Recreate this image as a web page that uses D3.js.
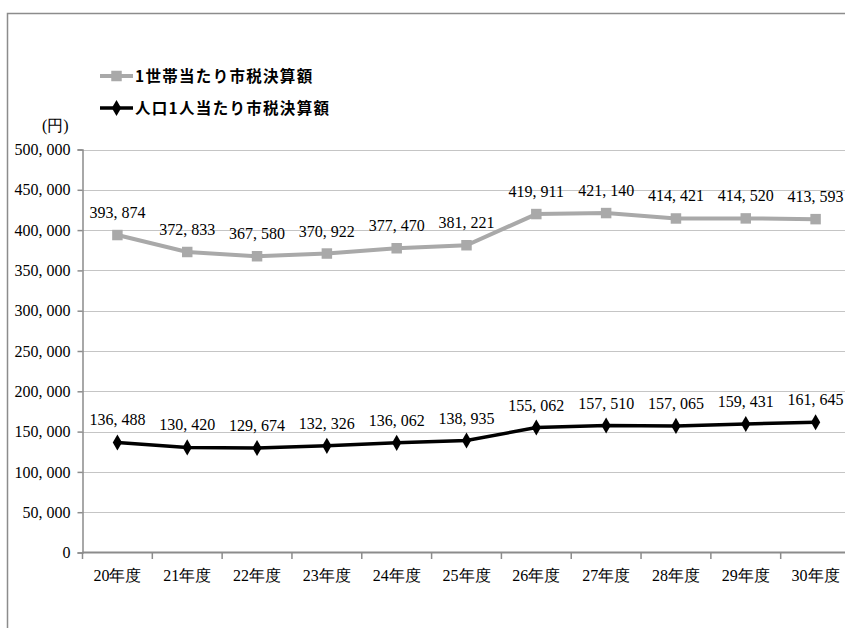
<!DOCTYPE html>
<html>
<head>
<meta charset="utf-8">
<script src="https://cdn.jsdelivr.net/npm/d3@7"></script>
<style>
  html, body { margin: 0; padding: 0; background: #fff; overflow: hidden; }
  .serif { font-family: "Liberation Serif", "Times New Roman", "DejaVu Serif", serif; }
</style>
</head>
<body>
<div id="chart"></div>
<script>
// Categories (fiscal years)
const years = ["20年度", "21年度", "22年度", "23年度", "24年度", "25年度",
               "26年度", "27年度", "28年度", "29年度", "30年度"];

// Series values (yen)
const perHousehold = [393874, 372833, 367580, 370922, 377470, 381221,
                      419911, 421140, 414421, 414520, 413593];
const perPerson    = [136488, 130420, 129674, 132326, 136062, 138935,
                      155062, 157510, 157065, 159431, 161645];

// Y tick values
const yTicks = [0, 50000, 100000, 150000, 200000, 250000,
                300000, 350000, 400000, 450000, 500000];

const seriesNames = ["1世帯当たり市税決算額", "人口1人当たり市税決算額"];

const width  = 845;
const height = 628;

const grayColor  = "#a9a9a9";
const blackColor = "#000000";
const axisColor  = "#8c8c8c";
const gothic = "'Noto Sans CJK JP', 'Noto Sans', sans-serif";

const svg = d3.select("#chart").append("svg")
  .attr("width", width)
  .attr("height", height);

// outer frame of the chart area
svg.append("rect")
  .attr("x", 7.5).attr("y", 13.5)
  .attr("width", 900).attr("height", 700)
  .attr("fill", "none")
  .attr("stroke", axisColor)
  .attr("stroke-width", 1.5);

// Scales
const x = d3.scaleBand()
  .domain(years)
  .range([82.5, 850.5])
  .paddingInner(0)
  .paddingOuter(0);

const y = d3.scaleLinear()
  .domain([0, 500000])
  .range([552.5, 149.5]);

const fmt = v => d3.format(",")(v).replace(",", ", ");
const cx = d => x(d) + x.bandwidth() / 2;

// grid lines (dotted)
svg.append("g")
  .selectAll("line")
  .data(yTicks.filter(t => t > 0))
  .enter().append("line")
  .attr("x1", 82.5).attr("x2", width)
  .attr("y1", d => Math.round(y(d)) + 0.5).attr("y2", d => Math.round(y(d)) + 0.5)
  .attr("stroke", "#8a8a8a")
  .attr("stroke-width", 1)
  .attr("stroke-dasharray", "1,1");

// y axis
const yAxis = svg.append("g")
  .attr("transform", "translate(82.5,0)")
  .call(d3.axisLeft(y).tickValues(yTicks).tickSize(5).tickFormat(fmt));
yAxis.attr("font-family", null).attr("font-size", null);
yAxis.select(".domain").attr("stroke", axisColor).attr("stroke-width", 1.5);
yAxis.selectAll(".tick line").attr("stroke", axisColor).attr("stroke-width", 1.5);
yAxis.selectAll(".tick text")
  .attr("class", "serif")
  .attr("x", -12)
  .attr("fill", "#000")
  .style("font-size", "16px");

// x axis
const xAxis = svg.append("g")
  .attr("transform", "translate(0,552.5)")
  .call(d3.axisBottom(x).tickSize(0).tickSizeOuter(0));
xAxis.attr("font-family", null).attr("font-size", null);
xAxis.select(".domain").attr("stroke", axisColor).attr("stroke-width", 2)
  .attr("d", "M82.5,0H" + width);
xAxis.selectAll(".tick text")
  .attr("class", "serif")
  .attr("y", 17)
  .attr("fill", "#000")
  .style("font-size", "16px");

// category boundary ticks
svg.append("g")
  .selectAll("line")
  .data(years)
  .enter().append("line")
  .attr("x1", d => x(d)).attr("x2", d => x(d))
  .attr("y1", 552.5).attr("y2", 559)
  .attr("stroke", axisColor)
  .attr("stroke-width", 1.5);

// unit label
svg.append("text")
  .attr("class", "serif")
  .attr("x", 42).attr("y", 131)
  .style("font-size", "16px")
  .text("(円)");

// lines
const line = d3.line()
  .x((d, i) => cx(years[i]))
  .y(d => y(d));

svg.append("path")
  .datum(perHousehold)
  .attr("d", line)
  .attr("fill", "none")
  .attr("stroke", grayColor)
  .attr("stroke-width", 4);

svg.append("path")
  .datum(perPerson)
  .attr("d", line)
  .attr("fill", "none")
  .attr("stroke", blackColor)
  .attr("stroke-width", 3.5);

// markers
const square = d3.symbol().type(d3.symbolSquare).size(110);
const diamond = d3.symbol().type(d3.symbolDiamond).size(75);

svg.append("g").selectAll("path")
  .data(perHousehold)
  .enter().append("path")
  .attr("d", square)
  .attr("transform", (d, i) => `translate(${cx(years[i])},${y(d)})`)
  .attr("fill", grayColor);

svg.append("g").selectAll("path")
  .data(perPerson)
  .enter().append("path")
  .attr("d", diamond)
  .attr("transform", (d, i) => `translate(${cx(years[i])},${y(d)})`)
  .attr("fill", blackColor);

// data labels
function addLabels(values) {
  svg.append("g").selectAll("text")
    .data(values)
    .enter().append("text")
    .attr("class", "serif")
    .attr("x", (d, i) => cx(years[i]))
    .attr("y", d => y(d) - 17)
    .attr("text-anchor", "middle")
    .style("font-size", "16px")
    .text(fmt);
}
addLabels(perHousehold);
addLabels(perPerson);

// legend
const legend = svg.append("g");
const legendRows = [
  { name: seriesNames[0], color: grayColor, width: 4, sym: square, y: 76 },
  { name: seriesNames[1], color: blackColor, width: 3.5, sym: diamond, y: 108 }
];
legendRows.forEach(r => {
  legend.append("line")
    .attr("x1", 100).attr("x2", 133)
    .attr("y1", r.y).attr("y2", r.y)
    .attr("stroke", r.color)
    .attr("stroke-width", r.width);
  legend.append("path")
    .attr("d", r.sym)
    .attr("transform", `translate(116.5,${r.y})`)
    .attr("fill", r.color);
  legend.append("text")
    .attr("x", 135).attr("y", r.y + 5.5)
    .style("font-family", gothic)
    .style("font-weight", "bold")
    .style("font-size", "15.5px")
    .style("letter-spacing", "1.3px")
    .text(r.name);
});
</script>
</body>
</html>
